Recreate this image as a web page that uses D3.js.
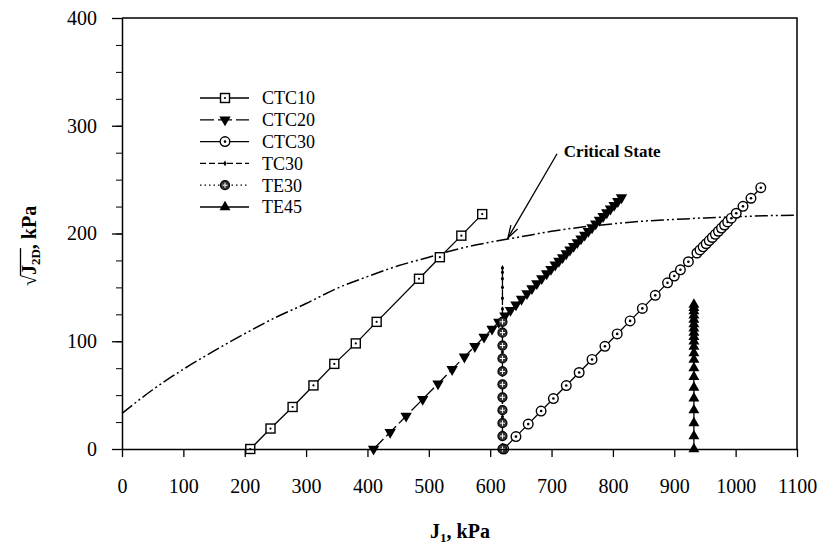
<!DOCTYPE html>
<html>
<head>
<meta charset="utf-8">
<script src="https://cdn.jsdelivr.net/npm/d3@7"></script>
<style>
  html, body { margin: 0; padding: 0; background: #fff; }
  svg { display: block; font-family: "Liberation Serif", "Times New Roman", serif; }
</style>
</head>
<body>
<svg id="chart" width="826" height="548"></svg>
<script>
// ---- stress path data: J1 (kPa) and sqrt(J2D) (kPa) ----
const ctc10J1 = [209, 242, 278, 312, 346, 381, 415, 484, 518, 553, 587];
const ctc10Q  = [0, 19, 39, 59, 79, 98, 118, 158, 178, 198, 218];

const ctc20J1 = [410, 437, 463, 490, 515, 538, 558, 575, 590, 603, 614, 624, 633, 642, 651, 660, 668, 676, 684, 692,
                 699, 706, 712, 718, 724, 730, 736, 742, 748, 754, 760, 766, 772, 778, 784, 790, 796, 802, 808, 814];
const ctc20Q  = [0, 15.6, 30.6, 46.2, 60.6, 73.9, 85.5, 95.3, 103.9, 111.4, 117.8, 123.6, 128.8, 133.9, 139.1, 144.3, 149.0, 153.6, 158.2, 162.8,
                 166.9, 170.9, 174.4, 177.8, 181.3, 184.8, 188.2, 191.7, 195.2, 198.6, 202.1, 205.5, 209.0, 212.5, 215.9, 219.4, 222.9, 226.3, 229.8, 233.3];

const ctc30J1 = [622, 642, 662, 683, 703, 724, 745, 766, 787, 807, 828, 848, 869, 889, 900, 910, 923,
                 937, 942, 947, 952, 957, 962, 967, 972, 977, 982, 987, 993, 1001, 1012, 1025, 1041];
const ctc30Q  = [0, 11.5, 23.1, 35.2, 46.8, 58.9, 71.0, 83.1, 95.3, 106.8, 118.9, 130.5, 142.6, 154.2, 160.5, 166.3, 173.8,
                 181.9, 184.8, 187.6, 190.5, 193.4, 196.3, 199.2, 202.1, 205.0, 207.9, 210.7, 214.2, 218.8, 225.2, 232.7, 242.5];

const tc30J1 = [620, 620, 620, 620, 620, 620, 620, 620, 620, 620, 620, 620, 620, 620, 620];
const tc30Q  = [0, 15, 30, 45, 60, 75, 90, 105, 120, 130, 140, 150, 158, 164, 168];

const te30J1 = [620, 620, 620, 620, 620, 620, 620, 620, 620, 620, 620];
const te30Q  = [0, 12, 24, 36, 48, 60, 72, 84, 96, 108, 118];

const te45J1 = [932, 932, 932, 932, 932, 932, 932, 932, 932, 932, 932, 932, 932, 932, 932, 932, 932, 932, 932, 932, 932];
const te45Q  = [0, 12, 24, 36, 47, 57, 67, 75, 83, 89, 95, 100, 104, 108, 112, 116, 120, 124, 128, 131, 134];

// critical state line
const csJ1 = [0, 50, 100, 150, 200, 250, 300, 350, 400, 450, 500, 550, 600, 650, 700, 750, 800, 850, 900, 950, 1000, 1050, 1100];
const csQ  = [33, 55, 74, 91, 107, 122, 135, 149, 160, 170, 178, 186, 192, 197, 202, 206, 209, 211.5, 213, 214.5, 215.5, 216.5, 217];

const seriesNames = ["CTC10", "CTC20", "CTC30", "TC30", "TE30", "TE45"];
const xTickValues = [0, 100, 200, 300, 400, 500, 600, 700, 800, 900, 1000, 1100];
const yTickValues = [0, 100, 200, 300, 400];
const yMinorTickValues = d3.range(0, 401, 25);

// annotation (data units)
const annotLabel = "Critical State";
const annotText = [720, 271];
const annotFrom = [709, 274];
const annotTo = [629, 196];

// ---- layout ----
const svg = d3.select("#chart");
const margin = { left: 122, top: 18, right: 29, bottom: 99 };
const W = 826, H = 548;
const x = d3.scaleLinear().domain([0, 1100]).range([margin.left, W - margin.right]);
const y = d3.scaleLinear().domain([0, 400]).range([H - margin.bottom, margin.top]);

const zip = (a, b) => a.map((v, i) => [v, b[i]]);

// marker drawing helpers
function drawMarker(g, kind, cx, cy) {
  const m = g.append("g").attr("transform", `translate(${cx},${cy})`);
  if (kind === "square") {
    m.append("rect").attr("x", -4.5).attr("y", -4.5).attr("width", 9).attr("height", 9)
      .attr("fill", "#fff").attr("stroke", "#000").attr("stroke-width", 1.4);
    m.append("circle").attr("r", 1.1).attr("fill", "#000");
  } else if (kind === "triDown") {
    m.append("path").attr("d", d3.symbol().type(d3.symbolTriangle).size(56)())
      .attr("transform", "rotate(180)").attr("fill", "#000");
  } else if (kind === "triUp") {
    m.append("path").attr("d", d3.symbol().type(d3.symbolTriangle).size(52)())
      .attr("fill", "#000");
  } else if (kind === "circleDot") {
    m.append("circle").attr("r", 4.8).attr("fill", "#fff").attr("stroke", "#000").attr("stroke-width", 1.4);
    m.append("circle").attr("r", 1.3).attr("fill", "#000");
  } else if (kind === "circleCross") {
    m.append("circle").attr("r", 4.5).attr("fill", "#333").attr("stroke", "#000").attr("stroke-width", 1.2);
    m.append("path").attr("d", "M-2.6,0H2.6M0,-2.6V2.6").attr("stroke", "#fff").attr("stroke-width", 1);
  } else if (kind === "small") {
    m.append("path").attr("d", d3.symbol().type(d3.symbolDiamond).size(10)()).attr("fill", "#000");
  }
}

const series = [
  { name: seriesNames[0], pts: zip(ctc10J1, ctc10Q), marker: "square",      dash: null },
  { name: seriesNames[1], pts: zip(ctc20J1, ctc20Q), marker: "triDown",     dash: "14,4" },
  { name: seriesNames[2], pts: zip(ctc30J1, ctc30Q), marker: "circleDot",   dash: null },
  { name: seriesNames[3], pts: zip(tc30J1, tc30Q),   marker: "small",       dash: "6,3" },
  { name: seriesNames[4], pts: zip(te30J1, te30Q),   marker: "circleCross", dash: "1.5,3" },
  { name: seriesNames[5], pts: zip(te45J1, te45Q),   marker: "triUp",       dash: null }
];

const line = d3.line().x(d => x(d[0])).y(d => y(d[1]));

// critical state curve
svg.append("path")
  .datum(zip(csJ1, csQ))
  .attr("d", line.curve(d3.curveMonotoneX))
  .attr("fill", "none").attr("stroke", "#000").attr("stroke-width", 1.5)
  .attr("stroke-dasharray", "13,3,2,3,2,3");
line.curve(d3.curveLinear);

// stress paths
const plot = svg.append("g");
series.forEach(s => {
  plot.append("path").datum(s.pts).attr("d", line)
    .attr("fill", "none").attr("stroke", "#000").attr("stroke-width", 1.3)
    .attr("stroke-dasharray", s.dash);
});
series.forEach(s => {
  const g = plot.append("g");
  s.pts.forEach(p => drawMarker(g, s.marker, x(p[0]), y(p[1])));
});

// ---- axes ----
const axisFont = "20px";
const gx = svg.append("g").attr("transform", `translate(0,${y(0)})`)
  .call(d3.axisBottom(x).tickValues(xTickValues).tickFormat(d3.format("d")).tickSize(8).tickSizeOuter(0).tickPadding(22));
const gy = svg.append("g").attr("transform", `translate(${x(0)},0)`)
  .call(d3.axisLeft(y).tickValues(yTickValues).tickFormat(d3.format("d")).tickSize(10).tickSizeOuter(0).tickPadding(15));
svg.append("g").attr("transform", `translate(${x(0)},0)`)
  .call(d3.axisLeft(y).tickValues(yMinorTickValues).tickFormat("").tickSize(6).tickSizeOuter(0))
  .call(g => g.select(".domain").remove());
[gx, gy].forEach(g => {
  g.selectAll("text").attr("font-family", "Liberation Serif").attr("font-size", axisFont).attr("fill", "#000");
  g.selectAll("line").attr("stroke", "#000").attr("stroke-width", 1.3);
  g.select(".domain").attr("stroke", "#000").attr("stroke-width", 1.5);
});
gx.selectAll("text").attr("dy", "0.71em");
// frame top and right
svg.append("path")
  .attr("d", `M${x(0)},${y(400)}H${x(1100)}V${y(0)}`)
  .attr("fill", "none").attr("stroke", "#000").attr("stroke-width", 1.5);

// axis titles
const xt = svg.append("text").attr("x", 460).attr("y", 538).attr("text-anchor", "middle")
  .attr("font-size", "20px").attr("font-weight", "bold");
xt.append("tspan").text("J");
xt.append("tspan").attr("font-size", "13px").attr("dy", 4).text("1");
xt.append("tspan").attr("dy", -4).text(", kPa");

const yg = svg.append("g").attr("transform", "translate(36,286) rotate(-90)");
const yt = yg.append("text").attr("x", 0).attr("y", 0).attr("font-size", "20px").attr("font-weight", "bold");
yt.append("tspan").text("\u221A");
yt.append("tspan").text("J");
yt.append("tspan").attr("font-size", "13px").attr("dy", 4).text("2D");
yt.append("tspan").attr("dy", -4).text(", kPa");
{
  const n = yt.node();
  const x0 = n.getEndPositionOfChar(0).x - 0.5;
  const x1 = n.getEndPositionOfChar(3).x + 1;
  yg.append("line").attr("x1", x0).attr("x2", x1).attr("y1", -15.5).attr("y2", -15.5)
    .attr("stroke", "#000").attr("stroke-width", 1.3);
}

// legend
const legend = svg.append("g");
series.forEach((s, i) => {
  const ly = 98 + i * 21.8;
  legend.append("line").attr("x1", 200).attr("x2", 249).attr("y1", ly).attr("y2", ly)
    .attr("stroke", "#000").attr("stroke-width", 1.3).attr("stroke-dasharray", s.dash);
  drawMarker(legend, s.marker, 225, ly);
  legend.append("text").attr("x", 262).attr("y", ly).attr("dy", "0.35em")
    .attr("font-size", "18px").text(s.name);
});

// critical state annotation
svg.append("text").attr("x", x(annotText[0])).attr("y", y(annotText[1]))
  .attr("font-size", "17px").attr("font-weight", "bold").text(annotLabel);
{
  const x1 = x(annotFrom[0]), y1 = y(annotFrom[1]), x2 = x(annotTo[0]), y2 = y(annotTo[1]);
  svg.append("line").attr("x1", x1).attr("y1", y1).attr("x2", x2).attr("y2", y2)
    .attr("stroke", "#000").attr("stroke-width", 1.3);
  const ang = Math.atan2(y2 - y1, x2 - x1);
  const L = 13, spread = 0.3;
  const p1 = [x2 - L * Math.cos(ang - spread), y2 - L * Math.sin(ang - spread)];
  const p2 = [x2 - L * Math.cos(ang + spread), y2 - L * Math.sin(ang + spread)];
  svg.append("path").attr("d", `M${p1[0]},${p1[1]}L${x2},${y2}L${p2[0]},${p2[1]}`)
    .attr("fill", "none").attr("stroke", "#000").attr("stroke-width", 1.3);
}
</script>
</body>
</html>
